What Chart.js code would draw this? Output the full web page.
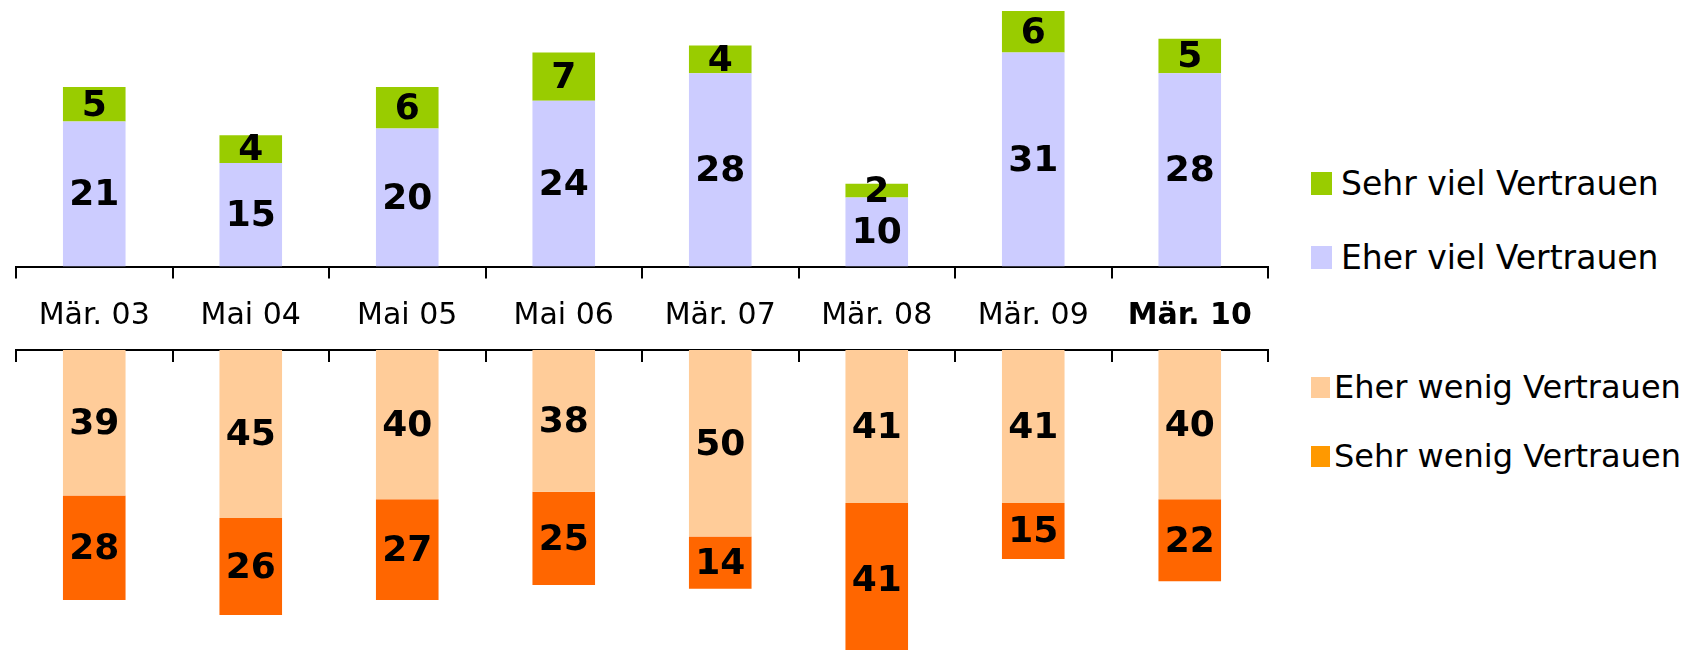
<!DOCTYPE html>
<html lang="de">
<head>
<meta charset="UTF-8">
<title>Vertrauen</title>
<script src="https://cdn.jsdelivr.net/npm/chart.js"></script>
<style>
  body { margin: 0; background: #fff; font-family: 'DejaVu Sans', sans-serif; }
  .wrap { position: relative; width: 1699px; height: 650px; overflow: hidden; }
  #topChart { position: absolute; left: 0; top: 0; }
  #bottomChart { position: absolute; left: 0; top: 340px; }
  .legend-item { position: absolute; display: flex; align-items: center; color: #000; white-space: nowrap; }
  .legend-item span.box { display: inline-block; width: 21px; height: 23px; margin-right: 9px; }
  .big { font-size: 33px; }
  .small { font-size: 32px; }
  .small span.box { width: 19px; height: 21px; margin-right: 4px; }
</style>
</head>
<body>
<div class="wrap">
  <canvas id="topChart" width="1290" height="350"></canvas>
  <canvas id="bottomChart" width="1290" height="310"></canvas>
  <div class="legend-item big" style="left:1311px; top:164px;"><span class="box" style="background:#99cc00"></span>Sehr viel Vertrauen</div>
  <div class="legend-item big" style="left:1311px; top:238px;"><span class="box" style="background:#ccccff"></span>Eher viel Vertrauen</div>
  <div class="legend-item small" style="left:1311px; top:368px;"><span class="box" style="background:#ffcc99"></span>Eher wenig Vertrauen</div>
  <div class="legend-item small" style="left:1311px; top:437px;"><span class="box" style="background:#ff9900"></span>Sehr wenig Vertrauen</div>
</div>
<script>
const labels = ['Mär. 03', 'Mai 04', 'Mai 05', 'Mai 06', 'Mär. 07', 'Mär. 08', 'Mär. 09', 'Mär. 10'];
const sehrViel = [5, 4, 6, 7, 4, 2, 6, 5];
const eherViel = [21, 15, 20, 24, 28, 10, 31, 28];
const eherWenig = [39, 45, 40, 38, 50, 41, 41, 40];
const sehrWenig = [28, 26, 27, 25, 14, 41, 15, 22];

// values written in the middle of each bar segment
const valueLabels = {
    id: 'valueLabels',
    afterDatasetsDraw(chart) {
        const ctx = chart.ctx;
        ctx.save();
        ctx.font = 'bold 36px "DejaVu Sans"';
        ctx.fillStyle = '#000';
        ctx.textAlign = 'center';
        ctx.textBaseline = 'middle';
        chart.data.datasets.forEach((ds, i) => {
            chart.getDatasetMeta(i).data.forEach((bar, j) => {
                const p = bar.getProps(['x', 'y', 'base'], true);
                ctx.fillText(ds.data[j], p.x, (p.y + p.base) / 2 + 2);
            });
        });
        ctx.restore();
    }
};

const barOpts = { categoryPercentage: 1, barPercentage: 0.4, borderWidth: 0 };

new Chart(document.getElementById('topChart'), {
    type: 'bar',
    data: {
        labels: labels,
        datasets: [
            { label: 'Eher viel Vertrauen', data: eherViel, backgroundColor: '#ccccff', ...barOpts },
            { label: 'Sehr viel Vertrauen', data: sehrViel, backgroundColor: '#99cc00', ...barOpts }
        ]
    },
    options: {
        responsive: false,
        animation: false,
        layout: { padding: { left: 16, right: 22, top: 0, bottom: 0 } },
        plugins: { legend: { display: false }, tooltip: { enabled: false } },
        scales: {
            x: {
                stacked: true,
                border: { color: '#000', width: 2 },
                grid: { drawOnChartArea: false, color: '#000', lineWidth: 2, tickLength: 12, offset: true },
                ticks: {
                    color: '#000',
                    padding: 20,
                    font: c => ({ family: 'DejaVu Sans', size: 30, weight: c.index === 7 ? 'bold' : 'normal' })
                },
                afterFit: s => { s.height = 83.5; }
            },
            y: { stacked: true, display: false, min: 0, max: 38.6 }
        }
    },
    plugins: [valueLabels]
});

new Chart(document.getElementById('bottomChart'), {
    type: 'bar',
    data: {
        labels: labels,
        datasets: [
            { label: 'Eher wenig Vertrauen', data: eherWenig, backgroundColor: '#ffcc99', ...barOpts },
            { label: 'Sehr wenig Vertrauen', data: sehrWenig, backgroundColor: '#ff6600', ...barOpts }
        ]
    },
    options: {
        responsive: false,
        animation: false,
        layout: { padding: { left: 16, right: 22, top: 0, bottom: 0 } },
        plugins: { legend: { display: false }, tooltip: { enabled: false } },
        scales: {
            x: {
                position: 'top',
                stacked: true,
                border: { color: '#000', width: 2 },
                grid: { drawOnChartArea: false, color: '#000', lineWidth: 2, tickLength: -12, offset: true },
                ticks: { display: false },
                afterFit: s => { s.height = 10; }
            },
            y: { stacked: true, display: false, reverse: true, min: 0, max: 80.4 }
        }
    },
    plugins: [valueLabels]
});
</script>
</body>
</html>
